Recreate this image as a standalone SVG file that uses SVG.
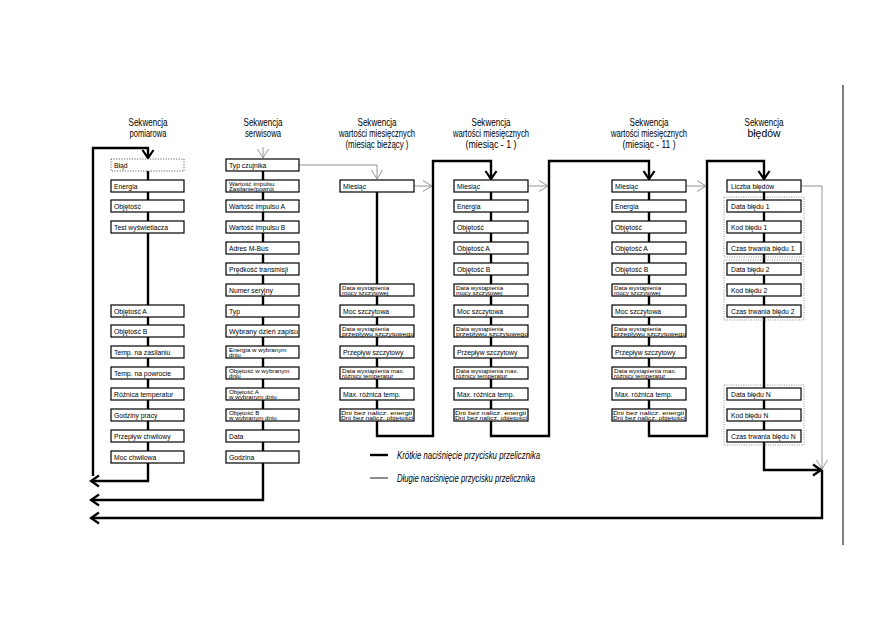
<svg xmlns="http://www.w3.org/2000/svg" width="893" height="630" viewBox="0 0 893 630">
<style>
.b{fill:#fff;stroke:#000;stroke-width:1.2}
.bd{fill:#fff;stroke:#555;stroke-width:0.9;stroke-dasharray:1.2,1.4}
.g{fill:none;stroke:#777;stroke-width:0.8;stroke-dasharray:1,1.4}
.t{font-family:"Liberation Sans",Arial,sans-serif;font-size:6.8px;fill:#000}
.t2{font-family:"Liberation Sans",Arial,sans-serif;font-size:6.2px;fill:#000}
.h{font-family:"Liberation Sans",Arial,sans-serif;font-size:11px;fill:#000;text-anchor:middle}
.l{font-family:"Liberation Sans",Arial,sans-serif;font-size:10px;font-style:italic;fill:#000}
.k{fill:none;stroke:#000;stroke-width:2.4}
.n{fill:none;stroke:#888;stroke-width:0.9}
</style>
<defs>
<marker id="ak" viewBox="-10 -7 12 14" markerWidth="12" markerHeight="14" refX="0" refY="0" orient="auto" markerUnits="userSpaceOnUse" overflow="visible"><path d="M-8,-5.5 L0,0 L-8,5.5" fill="none" stroke="#000" stroke-width="2.2"/></marker>
<marker id="an" viewBox="-10 -7 12 14" markerWidth="12" markerHeight="14" refX="0" refY="0" orient="auto" markerUnits="userSpaceOnUse" overflow="visible"><path d="M-9,-5.5 L0,0 L-9,5.5" fill="none" stroke="#888" stroke-width="0.9"/></marker>
</defs>
<rect width="893" height="630" fill="#fff"/>
<line x1="843" y1="85" x2="843" y2="545" stroke="#000" stroke-width="1"/>

<g id="titles">
<text class="h" x="148" y="125.5" textLength="39" lengthAdjust="spacingAndGlyphs">Sekwencja</text>
<text class="h" x="148" y="136.5" textLength="37" lengthAdjust="spacingAndGlyphs">pomiarowa</text>
<text class="h" x="263" y="125.5" textLength="39" lengthAdjust="spacingAndGlyphs">Sekwencja</text>
<text class="h" x="263" y="136.5" textLength="36" lengthAdjust="spacingAndGlyphs">serwisowa</text>
<text class="h" x="377" y="125.5" textLength="39" lengthAdjust="spacingAndGlyphs">Sekwencja</text>
<text class="h" x="377" y="136.5" textLength="76" lengthAdjust="spacingAndGlyphs">wartości miesięcznych</text>
<text class="h" x="377" y="147.5" textLength="63" lengthAdjust="spacingAndGlyphs">(miesiąc bieżący )</text>
<text class="h" x="491" y="125.5" textLength="39" lengthAdjust="spacingAndGlyphs">Sekwencja</text>
<text class="h" x="491" y="136.5" textLength="76" lengthAdjust="spacingAndGlyphs">wartości miesięcznych</text>
<text class="h" x="491" y="147.5" textLength="51" lengthAdjust="spacingAndGlyphs">(miesiąc - 1 )</text>
<text class="h" x="649" y="125.5" textLength="39" lengthAdjust="spacingAndGlyphs">Sekwencja</text>
<text class="h" x="649" y="136.5" textLength="76" lengthAdjust="spacingAndGlyphs">wartości miesięcznych</text>
<text class="h" x="649" y="147.5" textLength="53" lengthAdjust="spacingAndGlyphs">(miesiąc - 11 )</text>
<text class="h" x="764" y="125.5" textLength="39" lengthAdjust="spacingAndGlyphs">Sekwencja</text>
<text class="h" x="764" y="136.5" textLength="33" lengthAdjust="spacingAndGlyphs">błędów</text>
</g>

<g id="connectors">
<path class="k" d="M93,476 V148 H148 V158" marker-end="url(#ak)"/>
<path class="k" d="M148,171 V481 H91" marker-end="url(#ak)"/>
<path class="k" d="M263,171 V500 H91" marker-end="url(#ak)"/>
<path class="k" d="M377,192 V436 H433 V161 H491 V179" marker-end="url(#ak)"/>
<path class="k" d="M491,192 V436 H549 V161 H649 V179" marker-end="url(#ak)"/>
<path class="k" d="M649,192 V436 H707 V161 H764 V179" marker-end="url(#ak)"/>
<path class="k" d="M764,192 V470 H821" marker-end="url(#ak)"/>
<path class="k" d="M822,470 V518 H91" marker-end="url(#ak)"/>
<path class="n" d="M263,147 V158" marker-end="url(#an)"/>
<path class="n" d="M299,165 H377 V179" marker-end="url(#an)"/>
<path class="n" d="M414,186 H432" marker-end="url(#an)"/>
<path class="n" d="M528,186 H548" marker-end="url(#an)"/>
<path class="n" d="M686,186 H706" marker-end="url(#an)"/>
<path class="n" d="M801,186 H822 V469" marker-end="url(#an)"/>
</g>

<g id="legend">
<line x1="370" y1="455" x2="388" y2="455" stroke="#000" stroke-width="2.4"/>
<text class="l" x="397" y="458.5" textLength="143" lengthAdjust="spacingAndGlyphs">Krótkie naciśnięcie przycisku przelicznika</text>
<line x1="370" y1="478" x2="388" y2="478" stroke="#000" stroke-width="0.9"/>
<text class="l" x="397" y="481.5" textLength="138" lengthAdjust="spacingAndGlyphs">Długie naciśnięcie przycisku przelicznika</text>
</g>

<g id="col1">
<g id="c1-blad"><rect class="bd" x="111" y="159" width="73" height="12"/><text class="t" x="114" y="167.5">Błąd</text></g>
<g id="c1-energia"><rect class="b" x="111" y="180" width="73" height="12"/><text class="t" x="114" y="188.5">Energia</text></g>
<g id="c1-objetosc"><rect class="b" x="111" y="200" width="73" height="12"/><text class="t" x="114" y="208.5">Objętość</text></g>
<g id="c1-test"><rect class="b" x="111" y="221" width="73" height="12"/><text class="t" x="114" y="229.5">Test wyświetlacza</text></g>
<g id="c1-obja"><rect class="b" x="111" y="305" width="73" height="12"/><text class="t" x="114" y="313.5">Objętość A</text></g>
<g id="c1-objb"><rect class="b" x="111" y="325" width="73" height="12"/><text class="t" x="114" y="333.5">Objętość B</text></g>
<g id="c1-tzas"><rect class="b" x="111" y="346" width="73" height="12"/><text class="t" x="114" y="354.5">Temp. na zasilaniu</text></g>
<g id="c1-tpow"><rect class="b" x="111" y="367" width="73" height="12"/><text class="t" x="114" y="375.5">Temp. na powrocie</text></g>
<g id="c1-roz"><rect class="b" x="111" y="388" width="73" height="12"/><text class="t" x="114" y="396.5">Różnica temperatur</text></g>
<g id="c1-godz"><rect class="b" x="111" y="409" width="73" height="12"/><text class="t" x="114" y="417.5">Godziny pracy</text></g>
<g id="c1-przep"><rect class="b" x="111" y="430" width="73" height="12"/><text class="t" x="114" y="438.5">Przepływ chwilowy</text></g>
<g id="c1-moc"><rect class="b" x="111" y="451" width="73" height="12"/><text class="t" x="114" y="459.5">Moc chwilowa</text></g>
</g>

<g id="col2">
<g id="c2-typcz"><rect class="b" x="226" y="159" width="73" height="12"/><text class="t" x="229" y="167.5">Typ czujnika</text></g>
<g id="c2-wizp"><rect class="b" x="226" y="180" width="73" height="12"/><text class="t2" x="229" y="185.5">Wartość impulsu</text><text class="t2" x="229" y="191">Zasilanie/powrót</text></g>
<g id="c2-wia"><rect class="b" x="226" y="200" width="73" height="12"/><text class="t" x="229" y="208.5">Wartość impulsu A</text></g>
<g id="c2-wib"><rect class="b" x="226" y="221" width="73" height="12"/><text class="t" x="229" y="229.5">Wartość impulsu B</text></g>
<g id="c2-adres"><rect class="b" x="226" y="242" width="73" height="12"/><text class="t" x="229" y="250.5">Adres M-Bus</text></g>
<g id="c2-pred"><rect class="b" x="226" y="263" width="73" height="12"/><text class="t" x="229" y="271.5">Prędkość transmisji</text></g>
<g id="c2-numer"><rect class="b" x="226" y="284" width="73" height="12"/><text class="t" x="229" y="292.5">Numer seryjny</text></g>
<g id="c2-typ"><rect class="b" x="226" y="305" width="73" height="12"/><text class="t" x="229" y="313.5">Typ</text></g>
<g id="c2-dzien"><rect class="b" x="226" y="325" width="73" height="12"/><text class="t" x="229" y="333.5" textLength="69" lengthAdjust="spacingAndGlyphs">Wybrany dzień zapisu</text></g>
<g id="c2-ewd"><rect class="b" x="226" y="346" width="73" height="12"/><text class="t2" x="229" y="351.5">Energia w wybranym</text><text class="t2" x="229" y="357">dniu</text></g>
<g id="c2-owd"><rect class="b" x="226" y="367" width="73" height="12"/><text class="t2" x="229" y="372.5">Objętość w wybranym</text><text class="t2" x="229" y="378">dniu</text></g>
<g id="c2-oawd"><rect class="b" x="226" y="388" width="73" height="12"/><text class="t2" x="229" y="393.5">Objętość A</text><text class="t2" x="229" y="399">w wybranym dniu</text></g>
<g id="c2-obwd"><rect class="b" x="226" y="409" width="73" height="12"/><text class="t2" x="229" y="414.5">Objętość B</text><text class="t2" x="229" y="420">w wybranym dniu</text></g>
<g id="c2-data"><rect class="b" x="226" y="430" width="73" height="12"/><text class="t" x="229" y="438.5">Data</text></g>
<g id="c2-godz"><rect class="b" x="226" y="451" width="73" height="12"/><text class="t" x="229" y="459.5">Godzina</text></g>
</g>

<g id="col3">
<g id="c3-mies"><rect class="b" x="340" y="180" width="74" height="12"/><text class="t" x="343" y="188.5">Miesiąc</text></g>
<g id="c3-dwm"><rect class="b" x="340" y="284" width="74" height="12"/><text class="t2" x="342" y="289.5">Data wystąpienia</text><text class="t2" x="342" y="295">mocy szczytowej</text></g>
<g id="c3-moc"><rect class="b" x="340" y="305" width="74" height="12"/><text class="t" x="343" y="313.5">Moc szczytowa</text></g>
<g id="c3-dwp"><rect class="b" x="340" y="325" width="74" height="12"/><text class="t2" x="342" y="330.5">Data wystąpienia</text><text class="t2" x="342" y="336" textLength="72" lengthAdjust="spacingAndGlyphs">przepływu szczytowego</text></g>
<g id="c3-przep"><rect class="b" x="340" y="346" width="74" height="12"/><text class="t" x="343" y="354.5">Przepływ szczytowy</text></g>
<g id="c3-dwr"><rect class="b" x="340" y="367" width="74" height="12"/><text class="t2" x="342" y="372.5">Data wystąpienia max.</text><text class="t2" x="342" y="378">różnicy temperatur</text></g>
<g id="c3-max"><rect class="b" x="340" y="388" width="74" height="12"/><text class="t" x="343" y="396.5">Max. różnica temp.</text></g>
<g id="c3-dni"><rect class="b" x="340" y="409" width="74" height="12"/><text class="t2" x="341" y="414.5" textLength="71" lengthAdjust="spacingAndGlyphs">Dni bez nalicz. energii</text><text class="t2" x="341" y="420" textLength="72" lengthAdjust="spacingAndGlyphs">Dni bez nalicz. objętości</text></g>
</g>

<g id="col4">
<g id="c4-mies"><rect class="b" x="454" y="180" width="74" height="12"/><text class="t" x="457" y="188.5">Miesiąc</text></g>
<g id="c4-en"><rect class="b" x="454" y="200" width="74" height="12"/><text class="t" x="457" y="208.5">Energia</text></g>
<g id="c4-obj"><rect class="b" x="454" y="221" width="74" height="12"/><text class="t" x="457" y="229.5">Objętość</text></g>
<g id="c4-obja"><rect class="b" x="454" y="242" width="74" height="12"/><text class="t" x="457" y="250.5">Objętość A</text></g>
<g id="c4-objb"><rect class="b" x="454" y="263" width="74" height="12"/><text class="t" x="457" y="271.5">Objętość B</text></g>
<g id="c4-dwm"><rect class="b" x="454" y="284" width="74" height="12"/><text class="t2" x="456" y="289.5">Data wystąpienia</text><text class="t2" x="456" y="295">mocy szczytowej</text></g>
<g id="c4-moc"><rect class="b" x="454" y="305" width="74" height="12"/><text class="t" x="457" y="313.5">Moc szczytowa</text></g>
<g id="c4-dwp"><rect class="b" x="454" y="325" width="74" height="12"/><text class="t2" x="456" y="330.5">Data wystąpienia</text><text class="t2" x="456" y="336" textLength="72" lengthAdjust="spacingAndGlyphs">przepływu szczytowego</text></g>
<g id="c4-przep"><rect class="b" x="454" y="346" width="74" height="12"/><text class="t" x="457" y="354.5">Przepływ szczytowy</text></g>
<g id="c4-dwr"><rect class="b" x="454" y="367" width="74" height="12"/><text class="t2" x="456" y="372.5">Data wystąpienia max.</text><text class="t2" x="456" y="378">różnicy temperatur</text></g>
<g id="c4-max"><rect class="b" x="454" y="388" width="74" height="12"/><text class="t" x="457" y="396.5">Max. różnica temp.</text></g>
<g id="c4-dni"><rect class="b" x="454" y="409" width="74" height="12"/><text class="t2" x="455" y="414.5" textLength="71" lengthAdjust="spacingAndGlyphs">Dni bez nalicz. energii</text><text class="t2" x="455" y="420" textLength="72" lengthAdjust="spacingAndGlyphs">Dni bez nalicz. objętości</text></g>
</g>

<g id="col5">
<g id="c5-mies"><rect class="b" x="612" y="180" width="74" height="12"/><text class="t" x="615" y="188.5">Miesiąc</text></g>
<g id="c5-en"><rect class="b" x="612" y="200" width="74" height="12"/><text class="t" x="615" y="208.5">Energia</text></g>
<g id="c5-obj"><rect class="b" x="612" y="221" width="74" height="12"/><text class="t" x="615" y="229.5">Objętość</text></g>
<g id="c5-obja"><rect class="b" x="612" y="242" width="74" height="12"/><text class="t" x="615" y="250.5">Objętość A</text></g>
<g id="c5-objb"><rect class="b" x="612" y="263" width="74" height="12"/><text class="t" x="615" y="271.5">Objętość B</text></g>
<g id="c5-dwm"><rect class="b" x="612" y="284" width="74" height="12"/><text class="t2" x="614" y="289.5">Data wystąpienia</text><text class="t2" x="614" y="295">mocy szczytowej</text></g>
<g id="c5-moc"><rect class="b" x="612" y="305" width="74" height="12"/><text class="t" x="615" y="313.5">Moc szczytowa</text></g>
<g id="c5-dwp"><rect class="b" x="612" y="325" width="74" height="12"/><text class="t2" x="614" y="330.5">Data wystąpienia</text><text class="t2" x="614" y="336" textLength="72" lengthAdjust="spacingAndGlyphs">przepływu szczytowego</text></g>
<g id="c5-przep"><rect class="b" x="612" y="346" width="74" height="12"/><text class="t" x="615" y="354.5">Przepływ szczytowy</text></g>
<g id="c5-dwr"><rect class="b" x="612" y="367" width="74" height="12"/><text class="t2" x="614" y="372.5">Data wystąpienia max.</text><text class="t2" x="614" y="378">różnicy temperatur</text></g>
<g id="c5-max"><rect class="b" x="612" y="388" width="74" height="12"/><text class="t" x="615" y="396.5">Max. różnica temp.</text></g>
<g id="c5-dni"><rect class="b" x="612" y="409" width="74" height="12"/><text class="t2" x="613" y="414.5" textLength="71" lengthAdjust="spacingAndGlyphs">Dni bez nalicz. energii</text><text class="t2" x="613" y="420" textLength="72" lengthAdjust="spacingAndGlyphs">Dni bez nalicz. objętości</text></g>
</g>

<g id="col6">
<rect class="g" x="724" y="197" width="80" height="60"/>
<rect class="g" x="724" y="260" width="80" height="60"/>
<rect class="g" x="724" y="385" width="80" height="60"/>
<g id="c6-liczba"><rect class="b" x="727" y="180" width="74" height="12"/><text class="t" x="731" y="188.5">Liczba błędów</text></g>
<g id="c6-d1"><rect class="b" x="727" y="200" width="74" height="12"/><text class="t" x="731" y="208.5">Data błędu 1</text></g>
<g id="c6-k1"><rect class="b" x="727" y="221" width="74" height="12"/><text class="t" x="731" y="229.5">Kod błędu 1</text></g>
<g id="c6-c1"><rect class="b" x="727" y="242" width="74" height="12"/><text class="t" x="731" y="250.5">Czas trwania błędu 1</text></g>
<g id="c6-d2"><rect class="b" x="727" y="263" width="74" height="12"/><text class="t" x="731" y="271.5">Data błędu 2</text></g>
<g id="c6-k2"><rect class="b" x="727" y="284" width="74" height="12"/><text class="t" x="731" y="292.5">Kod błędu 2</text></g>
<g id="c6-c2"><rect class="b" x="727" y="305" width="74" height="12"/><text class="t" x="731" y="313.5">Czas trwania błędu 2</text></g>
<g id="c6-dn"><rect class="b" x="727" y="388" width="74" height="12"/><text class="t" x="731" y="396.5">Data błędu N</text></g>
<g id="c6-kn"><rect class="b" x="727" y="409" width="74" height="12"/><text class="t" x="731" y="417.5">Kod błędu N</text></g>
<g id="c6-cn"><rect class="b" x="727" y="430" width="74" height="12"/><text class="t" x="731" y="438.5">Czas trwania błędu N</text></g>
</g>
</svg>
